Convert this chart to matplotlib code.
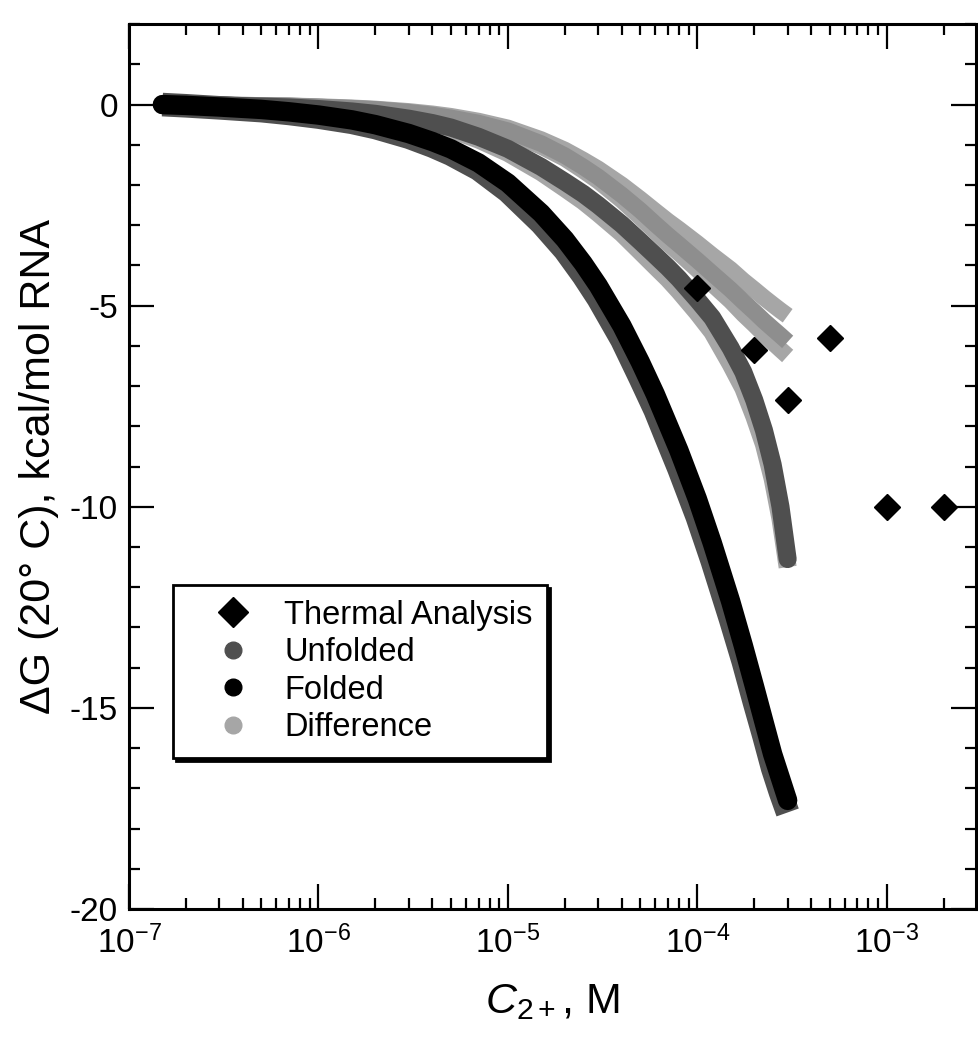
import matplotlib.pyplot as plt
from matplotlib.lines import Line2D
from matplotlib.ticker import LogLocator, MultipleLocator, FixedLocator
import numpy as np

plt.rcParams['font.family'] = ['Liberation Sans', 'DejaVu Sans']
plt.rcParams['mathtext.fontset'] = 'custom'
plt.rcParams['mathtext.rm'] = 'Liberation Sans'
plt.rcParams['mathtext.it'] = 'Liberation Sans:italic'
plt.rcParams['axes.unicode_minus'] = False

# concentration grid (M) shared by all model curves
conc = [1.5e-7, 2e-7, 3e-7, 5e-7, 7e-7, 1e-6, 1.5e-6, 2e-6, 3e-6, 4e-6,
        5e-6, 7e-6, 1e-5, 1.5e-5, 2e-5, 2.5e-5, 3e-5, 4e-5, 5e-5, 6e-5,
        7e-5, 8e-5, 1e-4, 1.2e-4, 1.5e-4, 1.75e-4, 2e-4, 2.25e-4, 2.5e-4,
        2.75e-4, 3e-4]

folded = [0.0, -0.02, -0.06, -0.12, -0.18, -0.26, -0.38, -0.5, -0.72, -0.92,
          -1.1, -1.45, -1.95, -2.7, -3.35, -3.95, -4.5, -5.5, -6.4, -7.2,
          -7.95, -8.6, -9.8, -10.9, -12.35, -13.45, -14.45, -15.35, -16.15,
          -16.75, -17.3]
unfolded_1 = [0.0, -0.03, -0.08, -0.15, -0.22, -0.31, -0.44, -0.57, -0.81, -1.03,
              -1.23, -1.6, -2.15, -2.95, -3.62, -4.25, -4.82, -5.85, -6.8, -7.6,
              -8.38, -9.05, -10.25, -11.35, -12.8, -13.85, -14.85, -15.7, -16.5,
              -17.1, -17.6]
unfolded_2 = [0.0, -0.01, -0.02, -0.05, -0.07, -0.11, -0.17, -0.23, -0.35, -0.46,
              -0.57, -0.8, -1.1, -1.55, -1.92, -2.22, -2.5, -2.98, -3.4, -3.75,
              -4.05, -4.33, -4.85, -5.3, -6.05, -6.65, -7.35, -8.1, -8.95,
              -10.0, -11.3]
unfolded_3 = [0.0, -0.01, -0.01, -0.02, -0.03, -0.06, -0.09, -0.12, -0.19, -0.26,
              -0.33, -0.46, -0.65, -0.97, -1.27, -1.55, -1.8, -2.25, -2.63, -2.97,
              -3.25, -3.48, -3.87, -4.2, -4.6, -4.9, -5.15, -5.38, -5.57,
              -5.74, -5.9]
diff_1 = [0.0, 0.0, -0.01, -0.02, -0.03, -0.05, -0.08, -0.11, -0.17, -0.23,
          -0.29, -0.41, -0.58, -0.87, -1.13, -1.38, -1.6, -2.0, -2.35, -2.65,
          -2.9, -3.1, -3.45, -3.75, -4.1, -4.38, -4.6, -4.8, -4.97,
          -5.12, -5.25]
diff_2 = [0.0, -0.01, -0.01, -0.02, -0.04, -0.06, -0.1, -0.13, -0.2, -0.27,
          -0.35, -0.49, -0.69, -1.04, -1.34, -1.64, -1.9, -2.38, -2.8, -3.15,
          -3.45, -3.69, -4.1, -4.46, -4.88, -5.21, -5.47, -5.71, -5.91,
          -6.09, -6.25]
diff_3 = [0.0, -0.01, -0.02, -0.05, -0.08, -0.12, -0.18, -0.25, -0.38, -0.5,
          -0.62, -0.87, -1.2, -1.68, -2.08, -2.4, -2.7, -3.2, -3.65, -4.02,
          -4.33, -4.63, -5.17, -5.65, -6.45, -7.05, -7.75, -8.45, -9.3,
          -10.3, -11.5]

thermal_x = [1e-4, 2e-4, 3e-4, 5e-4, 1e-3, 2e-3]
thermal_y = [-4.55, -6.1, -7.35, -5.8, -10.0, -10.0]

c_light = '#a6a6a6'
c_mid = '#8e8e8e'
c_dark = '#4f4f4f'

fig = plt.figure(figsize=(9.79, 10.5), dpi=100)
ax = fig.add_axes([0.1318, 0.1343, 0.8648, 0.8427])

# difference curves
ax.plot(conc, diff_3, color=c_light, lw=13, solid_capstyle='butt', zorder=2)
ax.plot(conc, diff_1, color=c_light, lw=12, solid_capstyle='butt', zorder=2)
ax.plot(conc, diff_2, color=c_light, lw=12, solid_capstyle='butt', zorder=2)
# unfolded curves
ax.plot(conc, unfolded_3, color=c_mid, lw=12, solid_capstyle='butt', zorder=3)
ax.plot(conc, unfolded_2, color=c_dark, lw=13, solid_capstyle='round', zorder=3)
ax.plot(conc, unfolded_1, color=c_dark, lw=17, solid_capstyle='butt', zorder=3)
# folded
ax.plot(conc, folded, color='black', lw=14, solid_capstyle='round', zorder=4)

ax.plot(thermal_x, thermal_y, linestyle='none', marker='D', ms=13.5,
        color='black', zorder=5, clip_on=False)

ax.set_xscale('log')
ax.set_xlim(1e-7, 2.95e-3)
ax.set_ylim(-20, 2)
ax.xaxis.set_major_locator(FixedLocator([1e-7, 1e-6, 1e-5, 1e-4, 1e-3]))
ax.xaxis.set_minor_locator(LogLocator(base=10, subs=np.arange(2, 10), numticks=20))
ax.yaxis.set_major_locator(FixedLocator([0, -5, -10, -15, -20]))
ax.yaxis.set_minor_locator(MultipleLocator(1))
ax.set_yticklabels(['0', '-5', '-10', '-15', '-20'])

ax.tick_params(which='both', direction='in', top=True, right=True, width=1.6,
               labelsize=24)
ax.tick_params(which='major', length=18)
ax.tick_params(which='minor', length=8)
ax.tick_params(axis='x', which='major', pad=12)
ax.tick_params(axis='y', which='major', pad=8)
for s in ax.spines.values():
    s.set_linewidth(2.2)

ax.set_xlabel(r'$C_{2+}$, M', fontsize=31, labelpad=16)
ax.set_ylabel('ΔG (20° C), kcal/mol RNA', fontsize=31, labelpad=8)

handles = [
    Line2D([], [], linestyle='none', marker='D', ms=15, color='black'),
    Line2D([], [], linestyle='none', marker='o', ms=12, color=c_dark),
    Line2D([], [], linestyle='none', marker='o', ms=12, color='black'),
    Line2D([], [], linestyle='none', marker='o', ms=12, color=c_light),
]
labels = ['Thermal Analysis', 'Unfolded', 'Folded', 'Difference']
leg = ax.legend(handles, labels, loc='upper left', bbox_to_anchor=(0.052, 0.366),
                borderaxespad=0, fontsize=23.5, frameon=True, fancybox=False,
                edgecolor='black', framealpha=1, handletextpad=0.2,
                labelspacing=0.2, borderpad=0.45, handlelength=2.75,
                shadow={'color': 'black', 'alpha': 1})
leg.get_frame().set_linewidth(2)
leg.set_zorder(10)

fig.savefig('out.png', dpi=100)
